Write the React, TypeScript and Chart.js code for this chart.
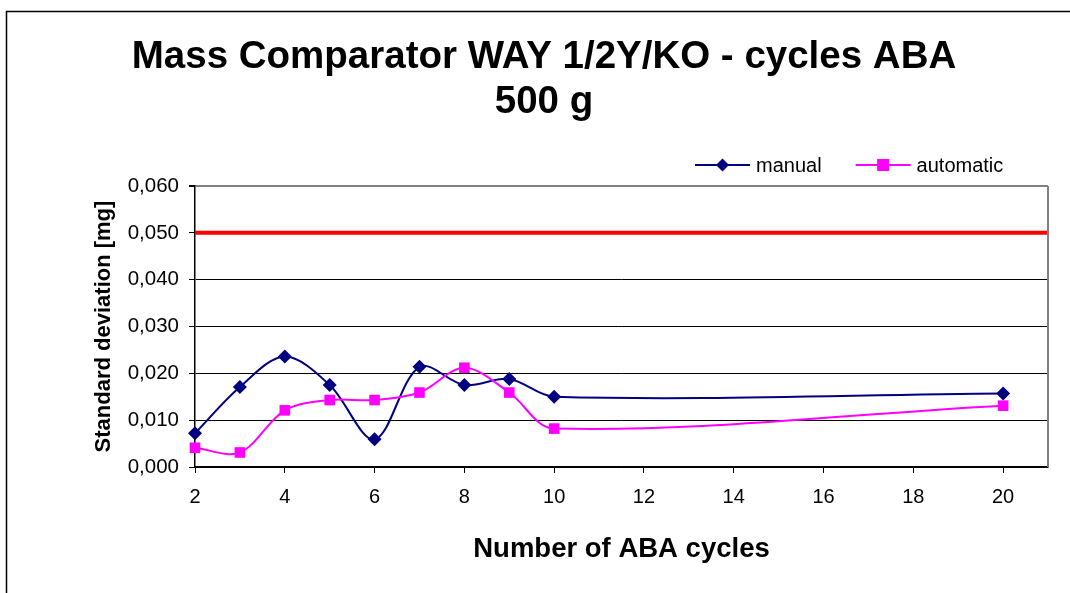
import React, { useEffect, useRef } from 'react';
import { Chart, registerables } from 'chart.js';

Chart.register(...registerables);

// ---- data ----
const cycles = [2, 3, 4, 5, 6, 7, 8, 9, 10, 20];
const manualValues = [0.0072, 0.0171, 0.0236, 0.0175, 0.0059, 0.0214, 0.0175, 0.0188, 0.015, 0.0157];
const automaticValues = [0.0041, 0.0031, 0.0121, 0.0143, 0.0143, 0.0159, 0.0212, 0.0159, 0.0082, 0.0131];
const limitValue = 0.05;
const xTickValues = [2, 4, 6, 8, 10, 12, 14, 16, 18, 20];
const xMin = 2;
const xMax = 21;
const yMin = 0;
const yMax = 0.06;
const yStep = 0.01;
const titleLines = ['Mass Comparator WAY 1/2Y/KO - cycles ABA', '500 g'];
const seriesNames = ['manual', 'automatic'];
const xAxisTitle = 'Number of ABA cycles';
const yAxisTitle = 'Standard deviation [mg]';

const FONT = '"Liberation Sans", Arial, Helvetica, sans-serif';
const NAVY = '#000080';
const MAGENTA = '#FF00FF';

const frameAndLegend = {
  id: 'frameAndLegend',
  beforeDraw(chart: any) {
    const ctx = chart.ctx;
    ctx.save();
    ctx.fillStyle = '#ffffff';
    ctx.fillRect(0, 0, chart.width, chart.height);
    ctx.strokeStyle = '#000000';
    ctx.lineWidth = 1.5;
    ctx.strokeRect(6.5, 11.5, chart.width + 50, chart.height + 50);
    ctx.restore();
  },
  afterDraw(chart: any) {
    const ctx = chart.ctx;
    const area = chart.chartArea;
    ctx.save();
    // plot area right border
    ctx.strokeStyle = '#808080';
    ctx.lineWidth = 2;
    ctx.beginPath();
    ctx.moveTo(area.right, area.top);
    ctx.lineTo(area.right, area.bottom);
    ctx.stroke();

    // legend
    const ds = chart.data.datasets;
    ctx.font = `20px ${FONT}`;
    ctx.textBaseline = 'middle';
    ctx.textAlign = 'left';
    let x = 695;
    const y = 165;
    [0, 1].forEach((i) => {
      const d = ds[i];
      ctx.strokeStyle = d.borderColor;
      ctx.lineWidth = 2;
      ctx.beginPath();
      ctx.moveTo(x, y);
      ctx.lineTo(x + 55, y);
      ctx.stroke();
      const cx = x + 27.5;
      ctx.fillStyle = d.backgroundColor;
      ctx.beginPath();
      if (d.pointStyle === 'rectRot') {
        const r = 6.5;
        ctx.moveTo(cx, y - r);
        ctx.lineTo(cx + r, y);
        ctx.lineTo(cx, y + r);
        ctx.lineTo(cx - r, y);
        ctx.closePath();
      } else {
        const h = 6;
        ctx.rect(cx - h, y - h, 2 * h, 2 * h);
      }
      ctx.fill();
      ctx.fillStyle = '#000000';
      ctx.fillText(d.label, x + 61, y + 1);
      x = x + 61 + ctx.measureText(d.label).width + 34;
    });
    ctx.restore();
  },
};

export default function App() {
  const canvasRef = useRef<HTMLCanvasElement | null>(null);

  useEffect(() => {
    document.body.style.margin = '0';
    const canvas = canvasRef.current;
    if (!canvas) return;

    const chart = new Chart(canvas, {
      type: 'line',
      data: {
        datasets: [
          {
            label: seriesNames[0],
            data: cycles.map((c, i) => ({ x: c, y: manualValues[i] })),
            borderColor: NAVY,
            backgroundColor: NAVY,
            borderWidth: 2,
            pointStyle: 'rectRot',
            pointRadius: 7,
            pointBorderWidth: 0,
            tension: 0.33,
            clip: false,
            order: 1,
          },
          {
            label: seriesNames[1],
            data: cycles.map((c, i) => ({ x: c, y: automaticValues[i] })),
            borderColor: MAGENTA,
            backgroundColor: MAGENTA,
            borderWidth: 2,
            pointStyle: 'rect',
            pointRadius: 7.5,
            pointBorderWidth: 0,
            tension: 0.33,
            clip: false,
            order: 0,
          },
          {
            label: 'limit',
            data: [
              { x: xMin, y: limitValue },
              { x: xMax, y: limitValue },
            ],
            borderColor: '#FF0000',
            backgroundColor: '#FF0000',
            borderWidth: 4,
            pointRadius: 0,
            tension: 0,
            order: 2,
          },
        ],
      } as any,
      options: {
        animation: false,
        responsive: false,
        devicePixelRatio: 1,
        layout: { padding: { left: 40, right: 22, top: 0, bottom: 0 } },
        plugins: {
          legend: { display: false },
          tooltip: { enabled: false },
          title: {
            display: true,
            text: titleLines,
            color: '#000000',
            font: { family: FONT, size: 38.5, weight: 'bold', lineHeight: 1.19 },
            padding: { top: 34, bottom: 60.4 },
          },
        },
        scales: {
          x: {
            type: 'linear',
            min: xMin,
            max: xMax,
            afterBuildTicks: (axis: any) => {
              axis.ticks = xTickValues.map((v) => ({ value: v }));
            },
            afterFit: (scale: any) => {
              scale.height = 126;
            },
            ticks: {
              autoSkip: false,
              maxRotation: 0,
              color: '#000000',
              font: { family: FONT, size: 20 },
              padding: 12,
              callback: (v: any) => String(v),
            },
            grid: {
              drawOnChartArea: false,
              color: '#000000',
              tickLength: 6,
              tickColor: '#000000',
            },
            border: { color: '#000000', width: 1.5 },
            title: {
              display: true,
              text: xAxisTitle,
              color: '#000000',
              font: { family: FONT, size: 27.5, weight: 'bold', lineHeight: 1.2 },
              padding: { top: 0, bottom: 27.5 },
            },
          },
          y: {
            type: 'linear',
            min: yMin,
            max: yMax,
            afterFit: (scale: any) => {
              scale.width = 155;
            },
            ticks: {
              stepSize: yStep,
              color: '#000000',
              font: { family: FONT, size: 20.5 },
              padding: 10,
              callback: (v: any) => Number(v).toFixed(3).replace('.', ','),
            },
            grid: {
              color: (c: any) =>
                c.tick && Math.abs(c.tick.value - yMax) < 1e-9 ? '#808080' : '#000000',
              lineWidth: (c: any) =>
                c.tick && Math.abs(c.tick.value - yMax) < 1e-9 ? 2 : 1,
              tickLength: 6,
              tickColor: '#000000',
            },
            border: { color: '#000000', width: 1.5 },
            title: {
              display: true,
              text: yAxisTitle,
              color: '#000000',
              font: { family: FONT, size: 22, weight: 'bold', lineHeight: 1.2 },
              padding: { top: 51, bottom: 0 },
            },
          },
        },
      } as any,
      plugins: [frameAndLegend],
    });

    return () => {
      chart.destroy();
    };
  }, []);

  return (
    <div style={{ width: 1070, height: 593, background: '#ffffff' }}>
      <canvas ref={canvasRef} width={1070} height={593} style={{ display: 'block' }} />
    </div>
  );
}
